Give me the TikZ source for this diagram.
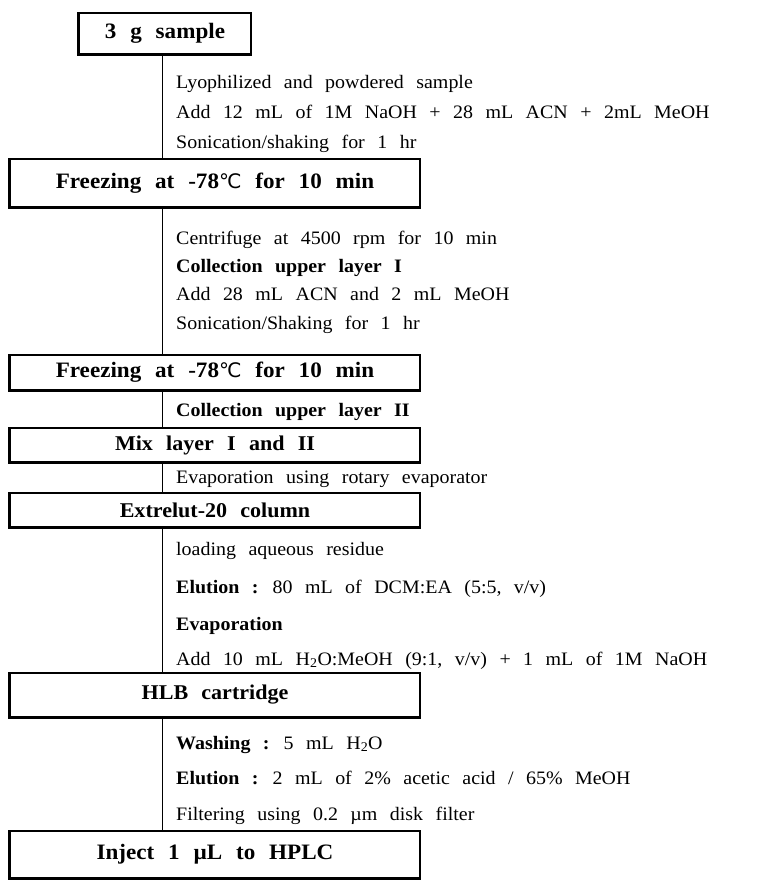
\documentclass[tikz,border=0pt]{standalone}
\usepackage{fontspec}
\setmainfont{Liberation Serif}[FakeStretch=1.05, WordSpace=2.5]
\newfontfamily\boxfont{Liberation Serif}[FakeStretch=1.05, WordSpace=2.4]
\newfontfamily\symfont{DejaVu Sans}
\usetikzlibrary{positioning,calc}
\newcommand{\degC}{{\symfont\mdseries\fontsize{20}{22}\selectfont ℃}}

\begin{document}
\begin{tikzpicture}[x=1pt,y=-1pt,
  stepbox/.style={rectangle, draw, line width=1.3pt, inner sep=0pt,
                  minimum width=410pt,
                  font=\boxfont\fontsize{22}{24}\selectfont\bfseries},
  smallbox/.style={stepbox, font=\boxfont\fontsize{21}{22}\selectfont\bfseries},
  note/.style={anchor=base west, inner sep=0pt,
               font=\fontsize{19}{21}\selectfont},
  spine/.style={line width=0.8pt},
]
  \useasboundingbox (0,0) rectangle (760,880);
  \coordinate (axis) at (162,0);

  % boxes
  \node[stepbox, minimum width=172pt, minimum height=41pt] (b1) at (165,33.5) {3 g sample};
  \node[stepbox, minimum height=48pt] (b2) at (215,183) {Freezing at -78\degC\ for 10 min};
  \node[stepbox, minimum height=35pt] (b3) at (215,372.5) {Freezing at -78\degC\ for 10 min};
  \node[smallbox, minimum height=34pt] (b4) at (215,445) {Mix layer I and II};
  \node[smallbox, minimum height=34pt] (b5) at (215,510) {Extrelut-20 column};
  \node[smallbox, minimum height=44pt] (b6) at (215,695) {HLB cartridge};
  \node[stepbox, minimum height=47pt] (b7) at (215,854.5) {Inject 1 µL to HPLC};

  % heavier left and bottom edges
  \foreach \b in {b1,b2,b3,b4,b5,b6,b7}
    \draw[line width=2.4pt] (\b.north west) -- (\b.south west) -- (\b.south east);

  % vertical line between steps
  \foreach \a/\b in {b1/b2,b2/b3,b3/b4,b4/b5,b5/b6,b6/b7}
    \draw[spine] (\a.south -| axis) -- (\b.north -| axis);

  % conditions
  \node[note] (n1) at (176,89) {Lyophilized and powdered sample};
  \node[note] (n2) at (176,119) {Add 12 mL of 1M NaOH + 28 mL ACN + 2mL MeOH};
  \node[note] (n3) at (176,148) {Sonication/shaking for 1 hr};

  \node[note] (n4) at (176,244) {Centrifuge at 4500 rpm for 10 min};
  \node[note] (n5) at (176,272) {\textbf{Collection upper layer I}};
  \node[note] (n6) at (176,300) {Add 28 mL ACN and 2 mL MeOH};
  \node[note] (n7) at (176,329) {Sonication/Shaking for 1 hr};

  \node[note] (n8) at (176,416) {\textbf{Collection upper layer II}};
  \node[note] (n9) at (176,483) {Evaporation using rotary evaporator};

  \node[note] (n10) at (176,555) {loading aqueous residue};
  \node[note] (n11) at (176,593) {\textbf{Elution :} 80 mL of DCM:EA (5:5, v/v)};
  \node[note] (n12) at (176,630) {\textbf{Evaporation}};
  \node[note] (n13) at (176,665) {Add 10 mL H\textsubscript{2}O:MeOH (9:1, v/v) + 1 mL of 1M NaOH};

  \node[note] (n14) at (176,749) {\textbf{Washing :} 5 mL H\textsubscript{2}O};
  \node[note] (n15) at (176,784) {\textbf{Elution :} 2 mL of 2\% acetic acid / 65\% MeOH};
  \node[note] (n16) at (176,820) {Filtering using 0.2 µm disk filter};
\end{tikzpicture}
\end{document}
